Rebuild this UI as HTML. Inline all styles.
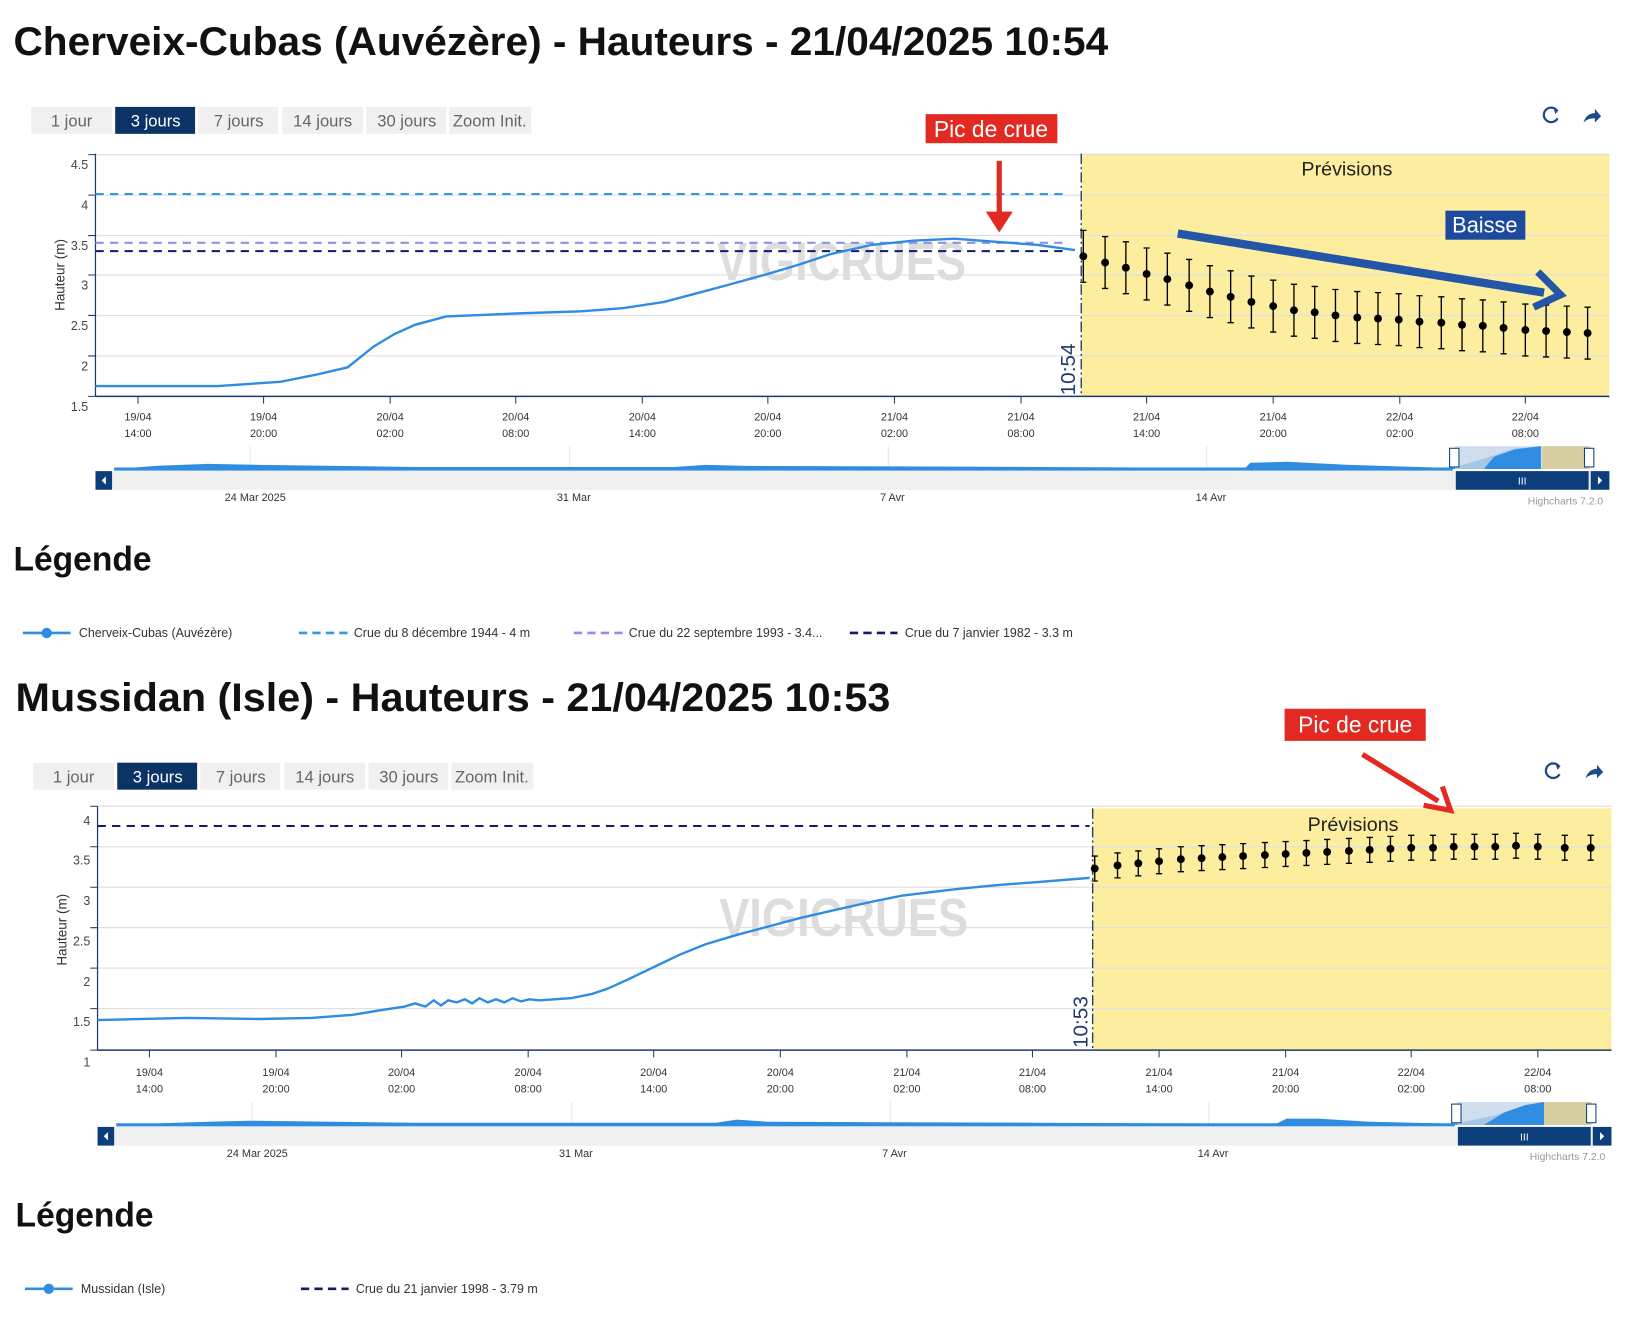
<!DOCTYPE html>
<html><head><meta charset="utf-8"><style>
html,body{margin:0;padding:0;background:#fff;width:1626px;height:1322px;overflow:hidden}
svg{display:block;font-family:"Liberation Sans",sans-serif}
</style></head><body>
<svg width="1626" height="1322" viewBox="0 0 1567 1274" preserveAspectRatio="none" xmlns="http://www.w3.org/2000/svg">
<defs>
<g id="eb1"><path d="M-3,-25h6M0,-25V25M-3,25h6" stroke="#000" stroke-width="1.3" fill="none"/><circle r="3.8" fill="#000"/></g>
<g id="eb2"><path d="M-3,-12h6M0,-12V12M-3,12h6" stroke="#000" stroke-width="1.3" fill="none"/><circle r="3.8" fill="#000"/></g>
<g id="icons"><path d="M1500,106 a7,7 0 1 0 1,8" stroke="#1f4a8a" stroke-width="2.2" fill="none"/><path d="M1497,104 l5,2 l-3,4z" fill="#1f4a8a"/><path d="M1526,118 q3,-9 11,-9 v-4 l6,7 l-6,6 v-4 q-7,0 -11,4z" fill="#1f4a8a"/></g>
</defs>

<!-- ===== CHART 1 ===== -->
<text x="13" y="53" font-size="38" font-weight="bold" fill="#111" textLength="1055" lengthAdjust="spacingAndGlyphs">Cherveix-Cubas (Auvézère) - Hauteurs - 21/04/2025 10:54</text>
<g font-size="16" fill="#666" text-anchor="middle">
<rect x="30" y="103" width="78" height="26" fill="#f0f0f0"/><text x="69" y="122">1 jour</text>
<rect x="111" y="103" width="77" height="26" fill="#0b3366"/><text x="150" y="122" fill="#fff">3 jours</text>
<rect x="191" y="103" width="77" height="26" fill="#f0f0f0"/><text x="230" y="122">7 jours</text>
<rect x="272" y="103" width="78" height="26" fill="#f0f0f0"/><text x="311" y="122">14 jours</text>
<rect x="353" y="103" width="77" height="26" fill="#f0f0f0"/><text x="392" y="122">30 jours</text>
<rect x="433" y="103" width="79" height="26" fill="#f0f0f0"/><text x="472" y="122">Zoom Init.</text>
</g>
<use href="#icons"/>
<rect x="1042" y="148" width="509" height="234" fill="#fdee9f"/>
<g stroke="#e0e0e0" stroke-width="1.2"><path d="M92,149H1551M92,188H1551M92,227H1551M92,265H1551M92,304H1551M92,343H1551"/></g>
<path d="M92,382H1551" stroke="#1f3a6a" stroke-width="1.5"/>
<path d="M92,148V382" stroke="#1f3a6a" stroke-width="1.2"/>
<g stroke="#1f3a6a"><path d="M85,149h7M85,188h7M85,227h7M85,265h7M85,304h7M85,343h7M85,382h7"/>
<path d="M133,382v7M254,382v7M376,382v7M497,382v7M619,382v7M740,382v7M862,382v7M984,382v7M1105,382v7M1227,382v7M1349,382v7M1470,382v7"/></g>
<g font-size="12" fill="#444" text-anchor="end"><text x="85" y="163">4.5</text><text x="85" y="202">4</text><text x="85" y="241">3.5</text><text x="85" y="279">3</text><text x="85" y="318">2.5</text><text x="85" y="357">2</text><text x="85" y="396">1.5</text></g>
<text transform="translate(62,265) rotate(-90)" font-size="13" fill="#333" text-anchor="middle">Hauteur (m)</text>
<g font-size="10.5" fill="#333" text-anchor="middle">
<text x="133" y="405">19/04</text><text x="133" y="421">14:00</text><text x="254" y="405">19/04</text><text x="254" y="421">20:00</text><text x="376" y="405">20/04</text><text x="376" y="421">02:00</text><text x="497" y="405">20/04</text><text x="497" y="421">08:00</text><text x="619" y="405">20/04</text><text x="619" y="421">14:00</text><text x="740" y="405">20/04</text><text x="740" y="421">20:00</text><text x="862" y="405">21/04</text><text x="862" y="421">02:00</text><text x="984" y="405">21/04</text><text x="984" y="421">08:00</text><text x="1105" y="405">21/04</text><text x="1105" y="421">14:00</text><text x="1227" y="405">21/04</text><text x="1227" y="421">20:00</text><text x="1349" y="405">22/04</text><text x="1349" y="421">02:00</text><text x="1470" y="405">22/04</text><text x="1470" y="421">08:00</text></g>
<text x="811" y="270" font-size="52" font-weight="bold" fill="#ddd" text-anchor="middle" textLength="240" lengthAdjust="spacingAndGlyphs">VIGICRUES</text>
<text x="1298" y="169" font-size="19" fill="#222" text-anchor="middle">Prévisions</text>
<path d="M92,187H1030" stroke="#3399e0" stroke-width="2" stroke-dasharray="8,6"/>
<path d="M92,234H1030" stroke="#9090ea" stroke-width="2" stroke-dasharray="8,6"/>
<path d="M92,242H1030" stroke="#141a66" stroke-width="2" stroke-dasharray="8,6"/>
<path d="M92,372L210,372L270,368L305,361L335,354L360,334L380,322L400,313L430,305L500,302L560,300L600,297L640,291L670,283L700,275L740,264L770,255L800,245L840,236L880,232L920,230L960,233L1000,236L1036,241" stroke="#2f8ce0" stroke-width="2.3" fill="none"/>
<path d="M1042,148V382" stroke="#1f3a6a" stroke-width="1.3" stroke-dasharray="10,3,2,3"/>
<text transform="translate(1036,381) rotate(-90)" font-size="20" fill="#1f3a6a">10:54</text>
<use href="#eb1" x="1044" y="247"/><use href="#eb1" x="1065" y="253"/><use href="#eb1" x="1085" y="258"/><use href="#eb1" x="1105" y="264"/><use href="#eb1" x="1125" y="269"/><use href="#eb1" x="1146" y="275"/><use href="#eb1" x="1166" y="281"/><use href="#eb1" x="1186" y="286"/><use href="#eb1" x="1206" y="291"/><use href="#eb1" x="1227" y="295"/><use href="#eb1" x="1247" y="299"/><use href="#eb1" x="1267" y="301"/><use href="#eb1" x="1287" y="304"/><use href="#eb1" x="1308" y="306"/><use href="#eb1" x="1328" y="307"/><use href="#eb1" x="1348" y="308"/><use href="#eb1" x="1368" y="310"/><use href="#eb1" x="1389" y="311"/><use href="#eb1" x="1409" y="313"/><use href="#eb1" x="1429" y="314"/><use href="#eb1" x="1449" y="316"/><use href="#eb1" x="1470" y="318"/><use href="#eb1" x="1490" y="319"/><use href="#eb1" x="1510" y="320"/><use href="#eb1" x="1530" y="321"/>
<rect x="892" y="110" width="127" height="28" fill="#e32a22"/><text x="955" y="132" font-size="22" fill="#fff" text-anchor="middle">Pic de crue</text>
<path d="M963,155V212" stroke="#e32a22" stroke-width="5"/><path d="M950,204L963,224L976,204Z" fill="#e32a22"/>
<rect x="1393" y="203" width="77" height="28" fill="#1e4a9e"/><text x="1431" y="224" font-size="21" fill="#fff" text-anchor="middle">Baisse</text>
<path d="M1135,225L1488,282" stroke="#2356a6" stroke-width="8"/><path d="M1482,262L1504,284L1478,296" stroke="#2356a6" stroke-width="7" fill="none"/>
<!-- navigator 1 -->
<path d="M241,430V452M549,430V452M856,430V452M1163,430V452" stroke="#e6e6e6"/>
<path d="M110,452L150,449L200,447L250,448L400,450L650,450L680,448L720,449L1000,450L1200,451L1205,446L1240,445L1300,448L1400,451L1430,442L1460,432L1485,430V452Z" fill="#2f8ce0"/>
<path d="M110,452H1400" stroke="#2f8ce0" stroke-width="3"/>
<rect x="1402" y="430" width="130" height="22" fill="#c4d4ea" opacity=".8"/>
<path d="M1430,452L1440,440L1460,433L1485,430V452Z" fill="#2f8ce0"/>
<rect x="1486" y="430" width="45" height="22" fill="#d6cea0"/>
<rect x="92" y="454" width="1459" height="18" fill="#efefef"/>
<rect x="92" y="454" width="16" height="18" fill="#0b3e7a"/><path d="M102,459l-4,4 4,4z" fill="#fff"/>
<rect x="1403" y="454" width="128" height="18" fill="#0b3e7a"/><text x="1467" y="467" font-size="10" fill="#fff" text-anchor="middle">III</text>
<rect x="1533" y="454" width="18" height="18" fill="#0b3e7a"/><path d="M1540,459l4,4 -4,4z" fill="#fff"/>
<rect x="1397" y="432" width="9" height="18" fill="#fff" stroke="#0b3e7a"/><rect x="1527" y="432" width="9" height="18" fill="#fff" stroke="#0b3e7a"/>
<g font-size="10.5" fill="#333" text-anchor="middle"><text x="246" y="483">24 Mar 2025</text><text x="553" y="483">31 Mar</text><text x="860" y="483">7 Avr</text><text x="1167" y="483">14 Avr</text></g>
<text x="1545" y="486" font-size="10" fill="#999" text-anchor="end">Highcharts 7.2.0</text>
<text x="13" y="550" font-size="33" font-weight="bold" fill="#111" textLength="133" lengthAdjust="spacingAndGlyphs">Légende</text>
<g font-size="12" fill="#333">
<path d="M22,610H68" stroke="#2f8ce0" stroke-width="2.5"/><circle cx="45" cy="610" r="5" fill="#2f8ce0"/><text x="76" y="614">Cherveix-Cubas (Auvézère)</text>
<path d="M288,610H335" stroke="#3399e0" stroke-width="2.5" stroke-dasharray="8,5"/><text x="341" y="614">Crue du 8 décembre 1944 - 4 m</text>
<path d="M553,610H600" stroke="#9090ea" stroke-width="2.5" stroke-dasharray="8,5"/><text x="606" y="614">Crue du 22 septembre 1993 - 3.4...</text>
<path d="M819,610H865" stroke="#141a66" stroke-width="2.5" stroke-dasharray="8,5"/><text x="872" y="614">Crue du 7 janvier 1982 - 3.3 m</text>
</g>

<!-- ===== CHART 2 ===== -->
<text x="15" y="685" font-size="38" font-weight="bold" fill="#111" textLength="843" lengthAdjust="spacingAndGlyphs">Mussidan (Isle) - Hauteurs - 21/04/2025 10:53</text>
<g font-size="16" fill="#666" text-anchor="middle">
<rect x="32" y="735" width="78" height="26" fill="#f0f0f0"/><text x="71" y="754">1 jour</text>
<rect x="113" y="735" width="77" height="26" fill="#0b3366"/><text x="152" y="754" fill="#fff">3 jours</text>
<rect x="193" y="735" width="77" height="26" fill="#f0f0f0"/><text x="232" y="754">7 jours</text>
<rect x="274" y="735" width="78" height="26" fill="#f0f0f0"/><text x="313" y="754">14 jours</text>
<rect x="355" y="735" width="77" height="26" fill="#f0f0f0"/><text x="394" y="754">30 jours</text>
<rect x="435" y="735" width="79" height="26" fill="#f0f0f0"/><text x="474" y="754">Zoom Init.</text>
</g>
<use href="#icons" x="2" y="632"/>
<rect x="1053" y="779" width="500" height="233" fill="#fdee9f"/>
<g stroke="#e0e0e0" stroke-width="1.2"><path d="M94,777H1553M94,816H1553M94,855H1553M94,894H1553M94,933H1553M94,972H1553"/></g>
<path d="M94,1012H1553" stroke="#1f3a6a" stroke-width="1.5"/>
<path d="M94,777V1012" stroke="#1f3a6a" stroke-width="1.2"/>
<g stroke="#1f3a6a"><path d="M87,777h7M87,816h7M87,855h7M87,894h7M87,933h7M87,972h7M87,1012h7"/>
<path d="M144,1012v7M266,1012v7M387,1012v7M509,1012v7M630,1012v7M752,1012v7M874,1012v7M995,1012v7M1117,1012v7M1239,1012v7M1360,1012v7M1482,1012v7"/></g>
<g font-size="12" fill="#444" text-anchor="end"><text x="87" y="795">4</text><text x="87" y="833">3.5</text><text x="87" y="872">3</text><text x="87" y="911">2.5</text><text x="87" y="950">2</text><text x="87" y="989">1.5</text><text x="87" y="1028">1</text></g>
<text transform="translate(64,896) rotate(-90)" font-size="13" fill="#333" text-anchor="middle">Hauteur (m)</text>
<g font-size="10.5" fill="#333" text-anchor="middle">
<text x="144" y="1037">19/04</text><text x="144" y="1053">14:00</text><text x="266" y="1037">19/04</text><text x="266" y="1053">20:00</text><text x="387" y="1037">20/04</text><text x="387" y="1053">02:00</text><text x="509" y="1037">20/04</text><text x="509" y="1053">08:00</text><text x="630" y="1037">20/04</text><text x="630" y="1053">14:00</text><text x="752" y="1037">20/04</text><text x="752" y="1053">20:00</text><text x="874" y="1037">21/04</text><text x="874" y="1053">02:00</text><text x="995" y="1037">21/04</text><text x="995" y="1053">08:00</text><text x="1117" y="1037">21/04</text><text x="1117" y="1053">14:00</text><text x="1239" y="1037">21/04</text><text x="1239" y="1053">20:00</text><text x="1360" y="1037">22/04</text><text x="1360" y="1053">02:00</text><text x="1482" y="1037">22/04</text><text x="1482" y="1053">08:00</text></g>
<text x="813" y="902" font-size="52" font-weight="bold" fill="#ddd" text-anchor="middle" textLength="240" lengthAdjust="spacingAndGlyphs">VIGICRUES</text>
<text x="1304" y="801" font-size="19" fill="#222" text-anchor="middle">Prévisions</text>
<path d="M94,796H1050" stroke="#141a66" stroke-width="2" stroke-dasharray="8,6"/>
<path d="M94,983L180,981L250,982L300,981L340,978L370,973L390,970L400,967L410,970L418,964L425,969L432,964L440,966L448,963L455,967L462,962L470,966L478,963L486,966L494,962L502,965L510,963L520,964L550,962L570,958L585,953L605,944L630,932L655,920L680,910L710,901L740,893L770,885L800,878L840,869L870,863L920,857L960,853L1000,850L1050,846" stroke="#2f8ce0" stroke-width="2.3" fill="none"/>
<path d="M1053,779V1012" stroke="#1f3a6a" stroke-width="1.3" stroke-dasharray="10,3,2,3"/>
<text transform="translate(1048,1010) rotate(-90)" font-size="20" fill="#1f3a6a">10:53</text>
<use href="#eb2" x="1055" y="837"/><use href="#eb2" x="1077" y="834"/><use href="#eb2" x="1097" y="832"/><use href="#eb2" x="1117" y="830"/><use href="#eb2" x="1138" y="828"/><use href="#eb2" x="1158" y="827"/><use href="#eb2" x="1178" y="826"/><use href="#eb2" x="1198" y="825"/><use href="#eb2" x="1219" y="824"/><use href="#eb2" x="1239" y="823"/><use href="#eb2" x="1259" y="822"/><use href="#eb2" x="1279" y="821"/><use href="#eb2" x="1300" y="820"/><use href="#eb2" x="1320" y="819"/><use href="#eb2" x="1340" y="818"/><use href="#eb2" x="1360" y="817"/><use href="#eb2" x="1381" y="817"/><use href="#eb2" x="1401" y="816"/><use href="#eb2" x="1421" y="816"/><use href="#eb2" x="1441" y="816"/><use href="#eb2" x="1461" y="815"/><use href="#eb2" x="1482" y="816"/><use href="#eb2" x="1508" y="817"/><use href="#eb2" x="1533" y="817"/>
<rect x="1238" y="683" width="136" height="31" fill="#e32a22"/><text x="1306" y="706" font-size="22" fill="#fff" text-anchor="middle">Pic de crue</text>
<path d="M1313,727L1386,772" stroke="#e32a22" stroke-width="5"/><path d="M1372,776L1398,781L1390,758" stroke="#e32a22" stroke-width="5" fill="none"/>
<!-- navigator 2 -->
<path d="M243,1062V1084M551,1062V1084M858,1062V1084M1165,1062V1084" stroke="#e6e6e6"/>
<path d="M112,1084L200,1081L240,1080L400,1082L690,1082L710,1079L740,1081L1000,1082L1230,1083L1240,1078L1270,1078L1320,1081L1402,1083L1440,1075L1470,1065L1488,1062V1084Z" fill="#2f8ce0"/>
<path d="M112,1084H1402" stroke="#2f8ce0" stroke-width="3"/>
<rect x="1404" y="1062" width="130" height="22" fill="#c4d4ea" opacity=".8"/>
<path d="M1430,1084L1450,1072L1470,1065L1488,1062V1084Z" fill="#2f8ce0"/>
<rect x="1488" y="1062" width="45" height="22" fill="#d6cea0"/>
<rect x="94" y="1086" width="1459" height="18" fill="#efefef"/>
<rect x="94" y="1086" width="16" height="18" fill="#0b3e7a"/><path d="M104,1091l-4,4 4,4z" fill="#fff"/>
<rect x="1405" y="1086" width="128" height="18" fill="#0b3e7a"/><text x="1469" y="1099" font-size="10" fill="#fff" text-anchor="middle">III</text>
<rect x="1535" y="1086" width="18" height="18" fill="#0b3e7a"/><path d="M1542,1091l4,4 -4,4z" fill="#fff"/>
<rect x="1399" y="1064" width="9" height="18" fill="#fff" stroke="#0b3e7a"/><rect x="1529" y="1064" width="9" height="18" fill="#fff" stroke="#0b3e7a"/>
<g font-size="10.5" fill="#333" text-anchor="middle"><text x="248" y="1115">24 Mar 2025</text><text x="555" y="1115">31 Mar</text><text x="862" y="1115">7 Avr</text><text x="1169" y="1115">14 Avr</text></g>
<text x="1547" y="1118" font-size="10" fill="#999" text-anchor="end">Highcharts 7.2.0</text>
<text x="15" y="1182" font-size="33" font-weight="bold" fill="#111" textLength="133" lengthAdjust="spacingAndGlyphs">Légende</text>
<g font-size="12" fill="#333">
<path d="M24,1242H70" stroke="#2f8ce0" stroke-width="2.5"/><circle cx="47" cy="1242" r="5" fill="#2f8ce0"/><text x="78" y="1246">Mussidan (Isle)</text>
<path d="M290,1242H336" stroke="#141a66" stroke-width="2.5" stroke-dasharray="8,5"/><text x="343" y="1246">Crue du 21 janvier 1998 - 3.79 m</text>
</g>
</svg>
</body></html>
